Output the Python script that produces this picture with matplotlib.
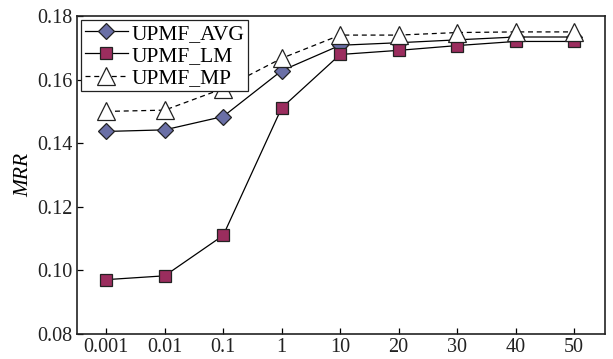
import matplotlib
matplotlib.use("Agg")
import matplotlib.pyplot as plt

categories = ["0.001", "0.01", "0.1", "1", "10", "20", "30", "40", "50"]
upmf_avg = [0.1437, 0.1442, 0.1484, 0.1628, 0.1708, 0.1716, 0.1725, 0.1734, 0.1734]
upmf_lm = [0.0971, 0.0983, 0.1110, 0.1511, 0.1679, 0.1692, 0.1707, 0.1720, 0.1720]
upmf_mp = [0.1500, 0.1504, 0.1572, 0.1667, 0.1740, 0.1740, 0.1748, 0.1750, 0.1750]
yticks = [0.08, 0.10, 0.12, 0.14, 0.16, 0.18]

plt.rcParams['font.family'] = ['Liberation Serif', 'DejaVu Serif']
plt.rcParams['mathtext.fontset'] = 'stix'

fig = plt.figure(figsize=(6.13, 3.59), dpi=100)
ax = fig.add_axes([0.1256, 0.0696, 0.8614, 0.8858])
x = list(range(len(categories)))

ax.plot(x, upmf_avg, color='black', lw=0.9, marker='D', markersize=8.5,
        markerfacecolor='#6a6fa6', markeredgecolor='#222222', markeredgewidth=0.9, label='UPMF_AVG', zorder=3)
ax.plot(x, upmf_lm, color='black', lw=0.9, marker='s', markersize=9,
        markerfacecolor='#9b2d5e', markeredgecolor='#222222', markeredgewidth=0.9, label='UPMF_LM', zorder=3)
ax.plot(x, upmf_mp, color='black', lw=0.9, ls=(0, (4, 3)), marker='^', markersize=13,
        markerfacecolor='white', markeredgecolor='#222222', markeredgewidth=0.9, label='UPMF_MP', zorder=4)

ax.set_xlim(-0.5, len(categories) - 0.47)
ax.set_ylim(0.08, 0.18)
ax.set_xticks(x)
ax.set_xticklabels(categories)
ax.set_yticks(yticks)
ax.set_yticklabels([f"{v:.2f}" for v in yticks])
ax.tick_params(direction='in', length=4, width=0.9, labelsize=14.5, pad=3, labelcolor='#222222')
for s in ax.spines.values():
    s.set_linewidth(1.2)
    s.set_color('#222222')
ax.set_ylabel('MRR', fontsize=15.5, style='italic', labelpad=3)

leg = ax.legend(loc='upper left', bbox_to_anchor=(0.0, 1.0), fontsize=15.5, frameon=True,
                fancybox=False, edgecolor='#222222', framealpha=1, borderpad=0.15,
                labelspacing=0.1, handlelength=2.0, handletextpad=0.2, borderaxespad=0.2)
leg.get_frame().set_linewidth(0.9)

fig.savefig('out.png', dpi=100)
